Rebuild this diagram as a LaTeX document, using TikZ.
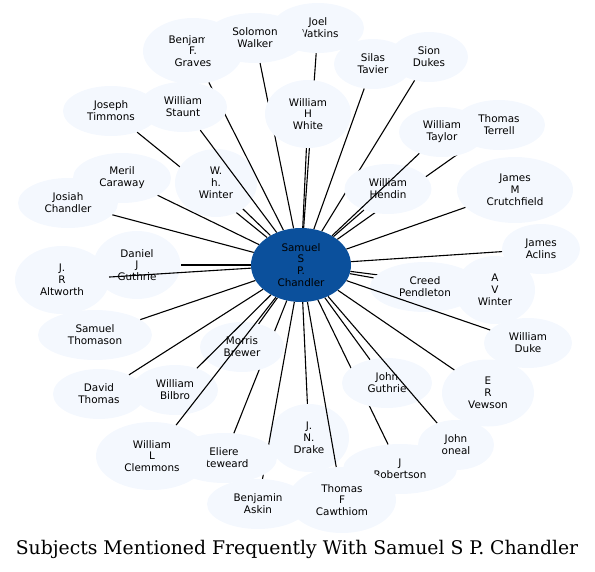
\documentclass[tikz,border=0pt]{standalone}
\usepackage{fontspec}
\usetikzlibrary{shapes.geometric}
\newfontfamily\nodefont{DejaVu Sans}
\newfontfamily\titlefont{DejaVu Serif}
\definecolor{leaffill}{RGB}{244,248,254}
\definecolor{hubfill}{RGB}{11,80,156}
\tikzset{
  leaf/.style={ellipse, fill=leaffill, draw=none, inner sep=0pt, align=center,
    font=\nodefont\fontsize{10.4}{11.8}\selectfont, text=black},
  hub/.style={ellipse, fill=hubfill, draw=none, inner sep=0pt, align=center,
    font=\nodefont\fontsize{10.4}{11.8}\selectfont, text=black},
  edge/.style={draw=black, line width=1.1pt},
  sz/.style 2 args={minimum width=#1pt, minimum height=#2pt}
}
\begin{document}
\begin{tikzpicture}[x=1pt,y=-1pt]
\useasboundingbox (0,0) rectangle (595,571);
\node[hub, sz={100}{74}] (C) at (301,265) {Samuel\\S\\P.\\Chandler};

\node[leaf, sz={96}{50}] (timmons) at (111,111) {Joseph\\Timmons};
\draw[edge] (C) -- (timmons);
\node[leaf, sz={82}{68}] (whw) at (216,183) {W.\\h.\\Winter};
\draw[edge] (C) -- (whw);
\node[leaf, sz={100}{66}] (graves) at (193,51) {Benjamin\\F.\\Graves};
\draw[edge] (C) -- (graves);
\node[leaf, sz={88}{50}] (staunt) at (183,107) {William\\Staunt};
\draw[edge] (C) -- (staunt);
\node[leaf, sz={92}{50}] (watkins) at (318,28) {Joel\\Watkins};
\draw[edge] (C) -- (watkins);
\node[leaf, sz={100}{50}] (walker) at (255,38) {Solomon\\Walker};
\draw[edge] (C) -- (walker);
\node[leaf, sz={86}{68}] (white) at (308,114) {William\\H\\White};
\draw[edge] (C) -- (white);
\node[leaf, sz={78}{50}] (tavier) at (373,64) {Silas\\Tavier};
\draw[edge] (C) -- (tavier);
\node[leaf, sz={78}{50}] (dukes) at (429,57) {Sion\\Dukes};
\draw[edge] (C) -- (dukes);
\node[leaf, sz={92}{50}] (terrell) at (499,125) {Thomas\\Terrell};
\draw[edge] (C) -- (terrell);
\node[leaf, sz={87}{50}] (hendin) at (388,189) {William\\Hendin};
\draw[edge] (C) -- (hendin);
\node[leaf, sz={86}{50}] (taylor) at (442,132) {William\\Taylor};
\draw[edge] (C) -- (taylor);
\node[leaf, sz={116}{66}] (crutch) at (515,190) {James\\M\\Crutchfield};
\draw[edge] (C) -- (crutch);
\node[leaf, sz={78}{50}] (aclins) at (541,249) {James\\Aclins};
\draw[edge] (C) -- (aclins);
\node[leaf, sz={80}{68}] (avw) at (495,290) {A\\V\\Winter};
\draw[edge] (C) -- (avw);
\node[leaf, sz={110}{50}] (creed) at (425,287) {Creed\\Pendleton};
\draw[edge] (C) -- (creed);
\node[leaf, sz={88}{50}] (duke) at (528,343) {William\\Duke};
\draw[edge] (C) -- (duke);
\node[leaf, sz={92}{67}] (vewson) at (488,393) {E\\R\\Vewson};
\draw[edge] (C) -- (vewson);
\node[leaf, sz={114}{50}] (robertson) at (400,469) {J\\Robertson};
\draw[edge] (C) -- (robertson);
\node[leaf, sz={90}{50}] (jguthrie) at (387,383) {John\\Guthrie};
\draw[edge] (C) -- (jguthrie);
\node[leaf, sz={76}{50}] (oneal) at (456,445) {John\\oneal};
\draw[edge] (C) -- (oneal);
\node[leaf, sz={80}{68}] (drake) at (309,438) {J.\\N.\\Drake};
\draw[edge] (C) -- (drake);
\node[leaf, sz={108}{66}] (cawthiom) at (342,500) {Thomas\\F\\Cawthiom};
\draw[edge] (C) -- (cawthiom);
\node[leaf, sz={102}{50}] (askin) at (258,504) {Benjamin\\Askin};
\draw[edge] (C) -- (askin);
\node[leaf, sz={106}{50}] (steweard) at (224,458) {Eliere\\Steweard};
\draw[edge] (C) -- (steweard);
\node[leaf, sz={84}{50}] (brewer) at (242,347) {Morris\\Brewer};
\draw[edge] (C) -- (brewer);
\node[leaf, sz={86}{50}] (bilbro) at (175,390) {William\\Bilbro};
\draw[edge] (C) -- (bilbro);
\node[leaf, sz={112}{68}] (clemmons) at (152,456) {William\\L\\Clemmons};
\draw[edge] (C) -- (clemmons);
\node[leaf, sz={92}{50}] (dthomas) at (99,394) {David\\Thomas};
\draw[edge] (C) -- (dthomas);
\node[leaf, sz={114}{50}] (thomason) at (95,335) {Samuel\\Thomason};
\draw[edge] (C) -- (thomason);
\node[leaf, sz={87}{68}] (dguthrie) at (137,265) {Daniel\\J\\Guthrie};
\draw[edge] (C) -- (dguthrie);
\node[leaf, sz={94}{68}] (altworth) at (62,280) {J.\\R\\Altworth};
\draw[edge] (C) -- (altworth);
\node[leaf, sz={100}{50}] (josiah) at (68,203) {Josiah\\Chandler};
\draw[edge] (C) -- (josiah);
\node[leaf, sz={98}{50}] (caraway) at (122,178) {Meril\\Caraway};
\draw[edge] (C) -- (caraway);

\node[font=\titlefont\fontsize{18.8}{20}\selectfont, inner sep=0pt] (title) at (297,549) {Subjects Mentioned Frequently With Samuel S P. Chandler};
\end{tikzpicture}
\end{document}
